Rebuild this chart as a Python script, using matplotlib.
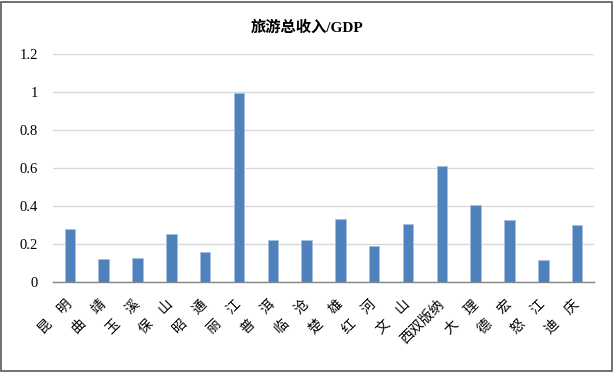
import matplotlib
matplotlib.use("Agg")
import matplotlib.pyplot as plt
from matplotlib.patches import Rectangle
from matplotlib.transforms import ScaledTranslation
import numpy as np

categories = ["昆明", "曲靖", "玉溪", "保山", "昭通", "丽江", "普洱", "临沧",
              "楚雄", "红河", "文山", "西双版纳", "大理", "德宏", "怒江", "迪庆"]
values = [0.278, 0.122, 0.125, 0.252, 0.157, 0.998, 0.220, 0.224,
          0.333, 0.190, 0.307, 0.612, 0.405, 0.328, 0.117, 0.302]
yticks = [0, 0.2, 0.4, 0.6, 0.8, 1, 1.2]
ytick_labels = ["0", "0.2", "0.4", "0.6", "0.8", "1", "1.2"]
title = "旅游总收入/GDP"

fams = ["Liberation Serif", "Noto Sans CJK SC", "DejaVu Sans"]
plt.rcParams['font.family'] = fams

W, H = 614, 372
fig = plt.figure(figsize=(W / 100, H / 100), dpi=100)
ax = fig.add_axes([53 / W, 1 - 282 / H, (594 - 53) / W, (282 - 54.4) / H])

x = np.arange(len(categories))
ax.bar(x, values, width=0.31, color="#4F81BD", edgecolor="#A7C0E0", linewidth=0.6, zorder=3)
ax.set_xlim(-0.5, len(categories) - 0.5)
ax.set_ylim(0, 1.2)
ax.set_yticks(yticks)
ax.set_yticklabels(ytick_labels, fontsize=10.5, color="#000000")
ax.yaxis.grid(True, color="#D9D9D9", linewidth=1.0, zorder=0)
ax.set_axisbelow(True)
for s in ["top", "right", "left"]:
    ax.spines[s].set_visible(False)
ax.spines["bottom"].set_color("#868686")
ax.spines["bottom"].set_linewidth(1.0)
ax.tick_params(axis="y", length=0, pad=11)
ax.tick_params(axis="x", length=0)

labels = [c if len(c) != 2 else c[0] + "\u3000" + c[1] for c in categories]
ax.set_xticks(x)
ax.set_xticklabels(labels, rotation=45, ha="right", va="top", rotation_mode="anchor",
                   fontsize=10, family=["Noto Sans CJK SC", "DejaVu Sans"])
off = ScaledTranslation(-5 / 100, -10 / 100, fig.dpi_scale_trans)
for t in ax.get_xticklabels():
    t.set_transform(t.get_transform() + off)

fig.text(0.5, 1 - 28 / H, title, ha="center", va="center", fontsize=11,
         fontweight="bold", family=fams)

fig.patches.append(Rectangle((1 / W, 1 / H), (W - 3) / W, (H - 3) / H, transform=fig.transFigure,
                             fill=False, edgecolor="#595959", linewidth=1.2))

fig.savefig("out.png", dpi=100, facecolor="white")
